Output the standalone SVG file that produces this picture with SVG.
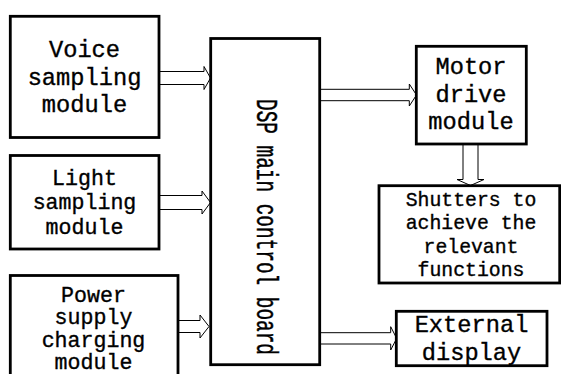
<svg xmlns="http://www.w3.org/2000/svg" width="561" height="374" viewBox="0 0 561 374">
  <style>
    .box { fill: #fff; stroke: #000; stroke-width: 2.8; }
    .arrow { fill: #fff; stroke: #000; stroke-width: 1; stroke-linejoin: miter; }
    text { font-family: "Liberation Mono", "DejaVu Sans Mono", monospace; fill: #000; stroke: #000; stroke-width: 0.35; text-anchor: middle; }
    .t24 { font-size: 23.7px; }
    .t22 { font-size: 21.6px; }
    .t20 { font-size: 19.8px; }
    .vert { font-size: 19.4px; stroke-width: 0.3; }
  </style>
  <rect width="561" height="374" fill="#fff"/>

  <g id="connectors">
    <!-- hollow block arrows: shaft outline with an open triangular head -->
    <path class="arrow" d="M159 71.5 H204 V66.5 L210.5 78 L204 89.5 V84.5 H159"/>
    <path class="arrow" d="M159 195.5 H202 V191 L210.5 202.5 L202 214 V209.5 H159"/>
    <path class="arrow" d="M178 320.5 H200 V315 L209 326.5 L200 338 V332.5 H178"/>
    <path class="arrow" d="M320 89.3 H409.3 V84 L416.5 95 L409.3 106 V100.7 H320"/>
    <path class="arrow" d="M320 332.7 H390.7 V326.7 L396.7 338.4 L390.7 350 V344 H320"/>
    <path class="arrow" d="M463 144 V179.5 H457 L470.5 185.5 L484 179.5 H478 V144"/>
  </g>

  <g id="voice">
    <rect class="box" x="10.3" y="16.3" width="148.7" height="121.2"/>
    <text class="t24" x="84.5" y="57">Voice</text>
    <text class="t24" x="84.5" y="84.5">sampling</text>
    <text class="t24" x="84.5" y="112">module</text>
  </g>

  <g id="light">
    <rect class="box" x="10.3" y="155.5" width="148.7" height="93.5"/>
    <text class="t22" x="84.5" y="184.5">Light</text>
    <text class="t22" x="84.5" y="209">sampling</text>
    <text class="t22" x="84.5" y="233.5">module</text>
  </g>

  <g id="power">
    <rect class="box" x="10.3" y="275.5" width="167.7" height="110"/>
    <text class="t22" x="93.5" y="301.5">Power</text>
    <text class="t22" x="93.5" y="324">supply</text>
    <text class="t22" x="93.5" y="346.5">charging</text>
    <text class="t22" x="93.5" y="369">module</text>
  </g>

  <g id="dsp">
    <rect class="box" x="210.7" y="38.5" width="109" height="326.2"/>
    <!-- label runs top to bottom; glyphs stretched across the column -->
    <text class="vert" transform="translate(256.5 227) rotate(90) scale(1 1.5)">DSP main control board</text>
  </g>

  <g id="motor">
    <rect class="box" x="416.3" y="46.3" width="110" height="97.7"/>
    <text class="t24" x="471" y="74">Motor</text>
    <text class="t24" x="471" y="101.7">drive</text>
    <text class="t24" x="471" y="129.3">module</text>
  </g>

  <g id="shutters">
    <rect class="box" x="379" y="185.7" width="180.7" height="97.3"/>
    <text class="t20" x="471" y="206">Shutters to</text>
    <text class="t20" x="471" y="229.3">achieve the</text>
    <text class="t20" x="471" y="252.7">relevant</text>
    <text class="t20" x="471" y="276">functions</text>
  </g>

  <g id="display">
    <rect class="box" x="396.3" y="311.3" width="150.7" height="54.4"/>
    <text class="t24" x="471.5" y="331.7">External</text>
    <text class="t24" x="471.5" y="360">display</text>
  </g>
</svg>
